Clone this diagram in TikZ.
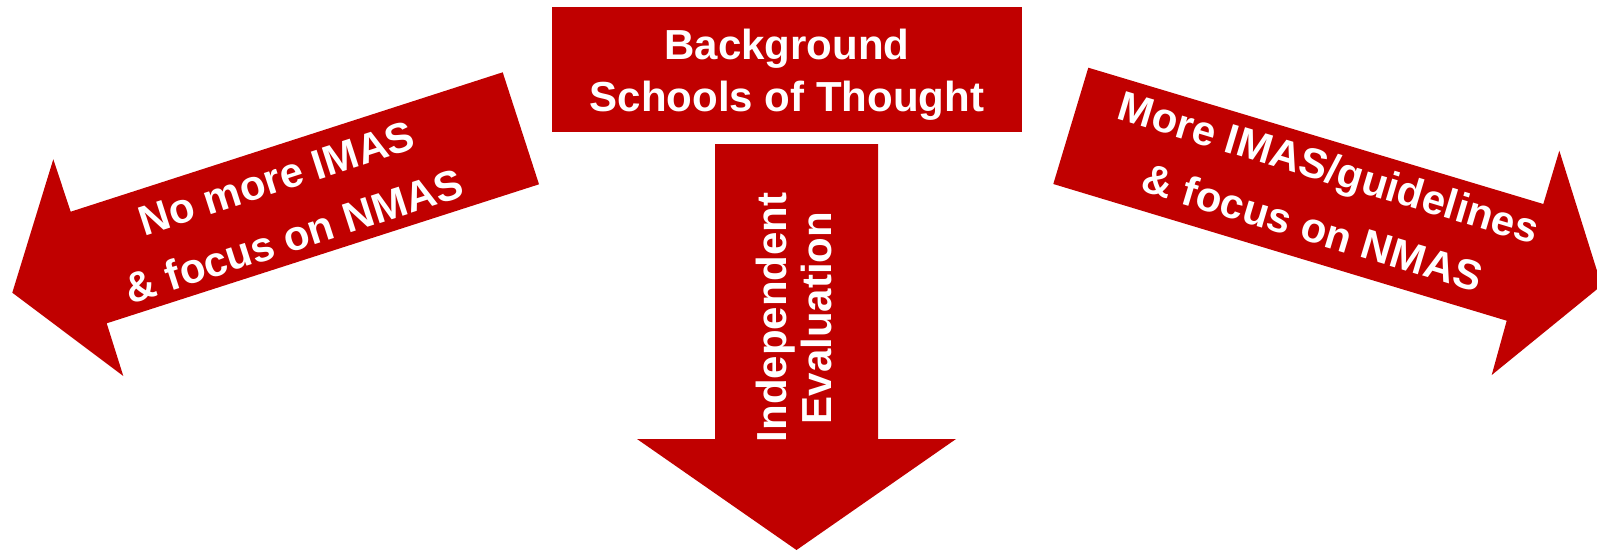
\documentclass[tikz,border=0pt]{standalone}
\usepackage{fontspec}
\setmainfont{Liberation Sans}
\definecolor{darkred}{RGB}{192,0,0}
\begin{document}
\begin{tikzpicture}[x=1pt,y=-1pt,
  redshape/.style={fill=darkred,draw=none},
  lbl/.style={text=white,font=\fontsize{42}{50}\selectfont\bfseries,anchor=base,inner sep=0pt}]
\useasboundingbox (0,0) rectangle (1597,551);
\clip (0,0) rectangle (1597,551);
% top box
\fill[redshape] (552,7.5) rectangle (1022,131.7);
\node[lbl] (bg1) at (787,59.8) {Background};
\node[lbl] (bg2) at (787,111.8) {Schools of Thought};
% down arrow
\fill[redshape] (715,144) -- (878,144) -- (878,439) -- (956,439) -- (796.5,550) -- (637,439) -- (715,439) -- cycle;
\node[lbl,rotate=90] (ev1) at (786.7,317.5) {Independent};
\node[lbl,rotate=90] (ev2) at (831.7,318) {Evaluation};
% left arrow
\fill[redshape] (502.7,72.3) -- (539,184.3) -- (106.7,323.3) -- (123.3,376) -- (12.3,292.7) -- (53.3,159.3) -- (70.7,211.7) -- cycle;
\node[lbl,rotate=17.9] (l1) at (281,192) {No more IMAS};
\node[lbl,rotate=17.9] (l2) at (298.5,250) {\& focus on NMAS};
% right arrow
\fill[redshape] (1088.3,67.7) -- (1543.3,204) -- (1559.3,150.7) -- (1601.6,285.5) -- (1491.7,375) -- (1506.7,320.7) -- (1053.3,184) -- cycle;
\node[lbl,rotate=-16.75] (r1) at (1324.6,181.7) {More IMAS/guidelines};
\node[lbl,rotate=-16.75] (r2) at (1308.4,241.7) {\& focus on NMAS};
\end{tikzpicture}
\end{document}
